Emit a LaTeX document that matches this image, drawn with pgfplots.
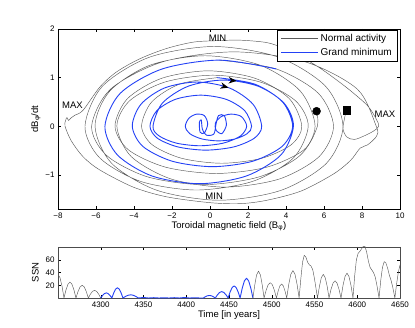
\documentclass[border=0pt]{standalone}
\usepackage{pgfplots}
\pgfplotsset{compat=1.18}
\usepackage{fontspec}
\setmainfont{Liberation Sans}
\usetikzlibrary{arrows.meta}
\definecolor{normgray}{RGB}{90,90,90}
\definecolor{gmblue}{RGB}{35,65,245}
\tikzset{
  normal/.style={draw=normgray,line width=0.45pt},
  grandmin/.style={draw=gmblue,line width=0.9pt},
}
\pgfplotsset{
  every axis/.append style={scale only axis, axis line style={black,line width=0.5pt},
    tick align=inside, major tick length=3pt, tick style={black,line width=0.4pt},
    tick label style={font=\fontsize{8}{9}\selectfont},
    label style={font=\fontsize{9.5}{11}\selectfont},
    /pgf/number format/assume math mode=true,
    /pgf/number format/1000 sep={}},
}
\begin{document}
\begin{tikzpicture}
\useasboundingbox (0,0) rectangle (415pt,-328pt);
% phase portrait
\begin{axis}[at={(58pt,-29pt)},anchor=north west,width=342pt,height=180pt,
  xmin=-8,xmax=10,ymin=-1.7,ymax=2,
  xtick={-8,-6,...,10},xticklabels={−8,−6,−4,−2,0,2,4,6,8,10},
  ytick={-1,0,1,2},yticklabels={−1,0,1,2},
  xlabel={Toroidal magnetic field (B\textsubscript{φ})},
  ylabel={dB\textsubscript{φ}/dt},
  xlabel style={yshift=3pt},ylabel style={yshift=-2pt},
  legend style={at={(0.991,0.994)},anchor=north east,draw=black,
    font=\fontsize{10}{12}\selectfont,cells={anchor=west},
    inner xsep=3pt,inner ysep=2pt,row sep=1pt},
  legend image code/.code={\draw[#1] (0pt,0pt) -- (37pt,0pt);}]
% normal activity before the minimum
\addplot[normal,smooth] coordinates {(5.61,0.31) (5.65,0) (4.94,-0.485) (2.99,-0.84) (0.33,-0.97) (-2.34,-0.84) (-4.29,-0.485) (-5.0,0) (-4.34,0.57) (-2.54,0.987) (-0.09,1.14) (2.37,0.987) (4.17,0.57) (4.83,0) (4.27,-0.38) (2.72,-0.658) (0.62,-0.76) (-1.49,-0.658) (-3.04,-0.38) (-3.6,0) (-3.07,0.5) (-1.61,0.866) (0.38,1.0)};
% normal activity after the minimum
\addplot[normal,smooth,forget plot] coordinates {(0.49,1.36) (3.49,1.178) (5.70,0.68) (6.5,0) (5.74,-0.625) (3.65,-1.083) (0.8,-1.25) (-2.05,-1.083) (-4.14,-0.625) (-4.9,0) (-4.23,0.525) (-2.38,0.909) (0.14,1.05) (2.65,0.909) (4.50,0.525) (5.17,0) (4.38,-0.655) (2.23,-1.134) (-0.71,-1.31) (-3.64,-1.134) (-5.79,-0.655) (-6.58,0) (-5.67,0.82) (-3.19,1.42) (0.21,1.64) (3.61,1.42) (6.09,0.82) (7.0,0) (6.13,-0.76) (3.74,-1.316) (0.48,-1.52) (-2.79,-1.316) (-5.18,-0.76) (-6.05,0) (-5.27,0.725) (-3.16,1.256) (-0.26,1.45) (2.64,1.256) (4.75,0.725) (5.53,0) (4.74,-0.6) (2.59,-1.039) (-0.35,-1.2) (-3.29,-1.039) (-5.44,-0.6) (-6.23,0) (-5.23,0.765) (-2.49,1.325) (1.26,1.53) (5.01,1.325) (7.75,0.765) (8.75,0) (8.77,-0.2) (8.3,-0.38) (7.9,-0.45) (7.4,-0.7) (6.5,-0.98) (4.8,-1.33) (3.0,-1.52) (1.6,-1.59) (0,-1.57) (-2.28,-1.45) (-4.04,-1.25) (-5.79,-0.9) (-6.67,-0.63) (-7.3,-0.3) (-7.63,0) (-7.6,0.12) (-7.53,0.18) (-7.45,0.12) (-7.32,0.17) (-7.1,0.23) (-6.68,0.33) (-5.79,0.81) (-4.91,1.12) (-3.68,1.39) (-2.28,1.6) (-0.88,1.73) (0.4,1.76) (1.6,1.77) (3.0,1.72) (3.9,1.6) (4.8,1.43) (5.7,1.22) (6.5,1.0) (7.4,0.73) (8.3,0.42) (8.75,0.15) (8.88,0.0) (8.6,-0.1) (8.1,-0.2) (7.6,-0.27) (7.2,-0.22) (7.0,-0.05) (7.1,0.2) (7.16,0.33)};
% grand minimum
\addplot[grandmin,smooth] coordinates {(0.38,1.0) (2.36,0.866) (3.82,0.5) (4.35,0) (3.79,-0.415) (2.24,-0.719) (0.13,-0.83) (-1.98,-0.719) (-3.53,-0.415) (-4.09,0) (-3.63,0.455) (-2.39,0.788) (-0.69,0.91) (1.02,0.788) (2.26,0.455) (2.72,0) (2.33,-0.245) (1.25,-0.424) (-0.22,-0.49) (-1.69,-0.424) (-2.77,-0.245) (-3.16,0) (-2.80,0.32) (-1.82,0.554) (-0.49,0.64) (0.85,0.554) (1.83,0.32) (2.19,0) (1.96,-0.15) (1.32,-0.26) (0.45,-0.3) (-0.43,-0.26) (-1.07,-0.15) (-1.3,0) (-1.10,0.17) (-0.70,0.25) (-0.30,0.22) (-0.12,0.05) (-0.30,-0.14) (-0.52,-0.12) (-0.56,0.08) (-0.46,0.13) (-0.40,-0.06) (-0.20,-0.18) (0.20,-0.16) (0.32,0.05) (0.45,0.22) (0.75,0.22) (0.86,0.02) (0.62,-0.15) (0.32,-0.08) (0.28,0.06) (0.55,0.19) (1.10,0.25) (1.65,0.20) (1.93,0) (1.60,-0.2) (0.70,-0.346) (-0.54,-0.4) (-1.77,-0.346) (-2.67,-0.2) (-3.0,0) (-2.51,0.475) (-1.15,0.823) (0.70,0.95) (2.54,0.823) (3.90,0.475) (4.39,0) (3.73,-0.59) (1.91,-1.022) (-0.57,-1.18) (-3.05,-1.022) (-4.87,-0.59) (-5.53,0) (-4.72,0.68) (-2.52,1.178) (0.49,1.36) (3.49,1.178)};
\legend{Normal activity,Grand minimum}
% direction arrows
\addplot[grandmin,forget plot,-{Stealth[length=8pt,width=6.5pt,black]}] coordinates {(0.95,0.947) (1.40,0.933)};
\addplot[grandmin,forget plot,-{Stealth[length=8pt,width=6.5pt,black]}] coordinates {(0.55,0.84) (0.97,0.795)};
% start and end points
\addplot[only marks,mark=*,mark size=4pt,black,forget plot] coordinates {(5.61,0.31)};
\addplot[only marks,mark=square*,mark size=3.8pt,black,forget plot] coordinates {(7.19,0.33)};
\node[font=\fontsize{9.5}{11}\selectfont] at (axis cs:0.4,1.80) {MIN};
\node[font=\fontsize{9.5}{11}\selectfont] at (axis cs:0.22,-1.43) {MIN};
\node[font=\fontsize{9.5}{11}\selectfont] at (axis cs:-7.24,0.43) {MAX};
\node[font=\fontsize{9.5}{11}\selectfont] at (axis cs:9.21,0.25) {MAX};
\end{axis}
% sunspot number
\begin{axis}[at={(58pt,-247pt)},anchor=north west,width=342pt,height=51pt,
  xmin=4250,xmax=4650,ymin=0,ymax=80,
  xtick={4300,4350,...,4650},ytick={20,40,60},
  xlabel={Time [in years]},ylabel={SSN},
  xlabel style={yshift=3pt},
  axis line style={black!70},
  line join=round]
\addplot[normal] coordinates {(4250,37) (4252.3,32) (4254.7,18.5) (4257,0) (4259.3,12.5) (4261.7,21.7) (4264,25) (4266.3,21.7) (4268.7,12.5) (4271,0) (4273.4,10) (4275.8,17.3) (4278.3,20) (4280.7,17.3) (4283.1,10) (4285.5,0) (4287.9,6) (4290.3,10.4) (4292.8,12) (4295.2,10.4) (4297.6,6) (4300,0)};
\addplot[grandmin] coordinates {(4300,0) (4302.2,4) (4304.3,6.9) (4306.5,8) (4308.7,6.9) (4310.8,4) (4313,0) (4315.2,8) (4317.3,13.9) (4319.5,16) (4321.7,13.9) (4323.8,8) (4326,0) (4329,2.5) (4332,4.3) (4335,5) (4338,4.3) (4341,2.5) (4344,0) (4350,0.8) (4356,0) (4362,0.5) (4368,0) (4374,0.3) (4380,0) (4386,0.5) (4392,0) (4398,0.8) (4404,0) (4410,0.4) (4416,0) (4420,0) (4422.3,2) (4424.7,3.5) (4427,4) (4429.3,3.5) (4431.7,2) (4434,0) (4436.5,5) (4439,8.7) (4441.5,10) (4444,8.7) (4446.5,5) (4449,0) (4451.3,9.5) (4453.7,16.5) (4456,19) (4458.3,16.5) (4460.7,9.5) (4463,0) (4465.5,15.5) (4468,26.8) (4470.5,31) (4473,26.8) (4475.5,15.5) (4478,0)};
\addplot[normal] coordinates {(4478,0) (4480.2,21) (4482.3,36.4) (4484.5,42) (4486.7,36.4) (4488.8,21) (4491,0) (4493.4,12) (4495.8,20.8) (4498.3,24) (4500.7,20.8) (4503.1,12) (4505.5,0) (4507.5,11) (4509.5,19) (4511.5,22) (4513.5,19) (4515.5,11) (4517.5,0) (4519.9,21.5) (4522.3,37.2) (4524.8,43) (4527.2,37.2) (4529.6,21.5) (4532,0) (4534,30) (4536,56) (4538,67) (4540,64) (4542,56) (4544,52) (4546,50) (4548,44) (4550,30) (4552,13) (4553.5,0) (4555.8,18.5) (4558,32) (4560.3,37) (4562.5,32) (4564.8,18.5) (4567,0) (4569.3,13.5) (4571.7,23.4) (4574,27) (4576.3,23.4) (4578.7,13.5) (4581,0) (4583.3,19.5) (4585.7,33.8) (4588,39) (4590.3,33.8) (4592.7,19.5) (4595,0) (4597,35) (4599,60) (4601,70) (4603,73) (4605,77) (4607,81) (4609,81) (4611,72) (4613,58) (4615,48) (4617,44) (4619,40) (4621,33) (4623,20) (4625.5,0) (4627.5,28) (4629.5,48) (4631.5,57) (4633.5,55) (4635.5,47) (4637.5,36) (4639.5,28) (4641.5,17) (4644,0) (4646,22) (4648,40) (4650,52)};
\end{axis}
\end{tikzpicture}
\end{document}
